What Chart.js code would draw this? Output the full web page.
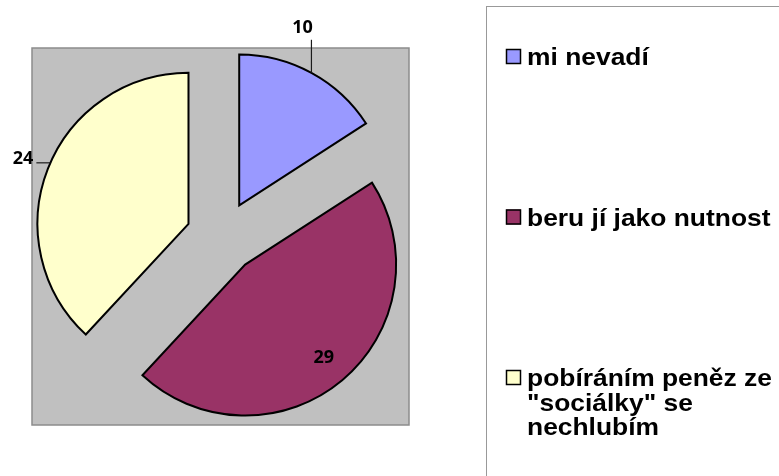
<!DOCTYPE html>
<html>
<head>
<meta charset="utf-8">
<script src="https://cdn.jsdelivr.net/npm/chart.js@4"></script>
<style>
  html, body { margin: 0; padding: 0; background: #ffffff; }
  #wrap { width: 779px; height: 476px; position: relative; }
</style>
</head>
<body>
<div id="wrap"><canvas id="c" width="779" height="476"></canvas></div>
<script>
// ---- data ----
const categories = ['mi nevadí', 'beru jí jako nutnost', 'pobíráním peněz ze "sociálky" se nechlubím'];
const legendLines = [['mi nevadí'], ['beru jí jako nutnost'], ['pobíráním peněz ze', '"sociálky" se', 'nechlubím']];
const values = [10, 29, 24];
const colors = ['#9999FF', '#993366', '#FFFFCC'];
const labelModes = ['above', 'inside', 'left'];

// ---- style constants ----
const EXPLODE = 36;
const PIE_RADIUS = 151;

const plotBackground = {
  id: 'plotBackground',
  beforeDraw(chart) {
    const ctx = chart.ctx;
    ctx.save();
    ctx.fillStyle = '#C0C0C0';
    ctx.fillRect(32, 48, 377, 377);
    ctx.strokeStyle = '#8c8c8c';
    ctx.lineWidth = 1.5;
    ctx.strokeRect(32, 48, 377, 377);
    ctx.restore();
  }
};

const explodedPie = {
  id: 'explodedPie',
  beforeDatasetDraw(chart, args) {
    const ctx = chart.ctx;
    const meta = args.meta;
    meta.data.forEach((arc) => {
      const p = arc.getProps(['startAngle', 'endAngle'], true);
      const mid = (p.startAngle + p.endAngle) / 2;
      ctx.save();
      ctx.translate(Math.cos(mid) * EXPLODE, Math.sin(mid) * EXPLODE);
      arc.draw(ctx);
      ctx.restore();
    });
    return false;
  }
};

const dataLabels = {
  id: 'dataLabels',
  afterDatasetsDraw(chart) {
    const ctx = chart.ctx;
    const meta = chart.getDatasetMeta(0);
    ctx.save();
    ctx.font = 'bold 18px "Open Sans"';
    ctx.fillStyle = '#000';
    ctx.strokeStyle = '#1a1a1a';
    ctx.lineWidth = 1.2;
    meta.data.forEach((arc, i) => {
      const p = arc.getProps(['x', 'y', 'startAngle', 'endAngle', 'outerRadius'], true);
      const mid = (p.startAngle + p.endAngle) / 2;
      const tx = p.x + Math.cos(mid) * EXPLODE;
      const ty = p.y + Math.sin(mid) * EXPLODE;
      const text = String(values[i]);
      const mode = labelModes[i];
      if (mode === 'inside') {
        ctx.textAlign = 'center';
        ctx.textBaseline = 'middle';
        ctx.fillText(text, tx + Math.cos(mid) * p.outerRadius * 0.81, ty + Math.sin(mid) * p.outerRadius * 0.81);
      } else if (mode === 'above') {
        const ax = tx + Math.cos(mid) * p.outerRadius;
        const ay = ty + Math.sin(mid) * p.outerRadius;
        ctx.beginPath();
        ctx.moveTo(ax, ay);
        ctx.lineTo(ax, ay - 33);
        ctx.stroke();
        ctx.textAlign = 'center';
        ctx.textBaseline = 'alphabetic';
        ctx.fillText(text, ax - 9, ay - 40);
      } else {
        const ang = mid + 0.042;
        const ax = tx + Math.cos(ang) * p.outerRadius;
        const ay = ty + Math.sin(ang) * p.outerRadius;
        ctx.beginPath();
        ctx.moveTo(ax, ay);
        ctx.lineTo(ax - 14, ay);
        ctx.stroke();
        ctx.textAlign = 'right';
        ctx.textBaseline = 'alphabetic';
        ctx.fillText(text, ax - 17, ay + 1);
      }
    });
    ctx.restore();
  }
};

const sideLegend = {
  id: 'sideLegend',
  afterDraw(chart) {
    const ctx = chart.ctx;
    const ds = chart.data.datasets[0];
    ctx.save();
    ctx.strokeStyle = '#999999';
    ctx.lineWidth = 1;
    ctx.strokeRect(486.5, 6.5, 400, 500);
    ctx.font = 'bold 24px "Liberation Sans"';
    ctx.fillStyle = '#000';
    ctx.textAlign = 'left';
    ctx.textBaseline = 'alphabetic';
    legendLines.forEach((lines, i) => {
      const b = 65 + i * 160.5;
      ctx.fillStyle = ds.backgroundColor[i];
      ctx.fillRect(506, b - 16, 15, 15);
      ctx.strokeStyle = '#000';
      ctx.lineWidth = 1.5;
      ctx.strokeRect(506.5, b - 15.5, 14, 14);
      ctx.fillStyle = '#000';
      lines.forEach((ln, k) => {
        ctx.save();
        ctx.translate(527, b + k * 24.5);
        ctx.scale(1.1, 1);
        ctx.fillText(ln, 0, 0);
        ctx.restore();
      });
    });
    ctx.restore();
  }
};

new Chart(document.getElementById('c'), {
  type: 'pie',
  data: {
    labels: categories,
    datasets: [{
      data: values,
      backgroundColor: colors,
      borderColor: '#000000',
      borderWidth: 2,
      borderJoinStyle: 'miter',
      offset: 0,
      hoverOffset: 0,
      radius: PIE_RADIUS
    }]
  },
  options: {
    responsive: false,
    animation: false,
    devicePixelRatio: 1,
    events: [],
    layout: { padding: { left: 0, top: 0, right: 335, bottom: 2 } },
    plugins: {
      legend: { display: false },
      tooltip: { enabled: false }
    }
  },
  plugins: [plotBackground, explodedPie, dataLabels, sideLegend]
});
</script>
</body>
</html>
